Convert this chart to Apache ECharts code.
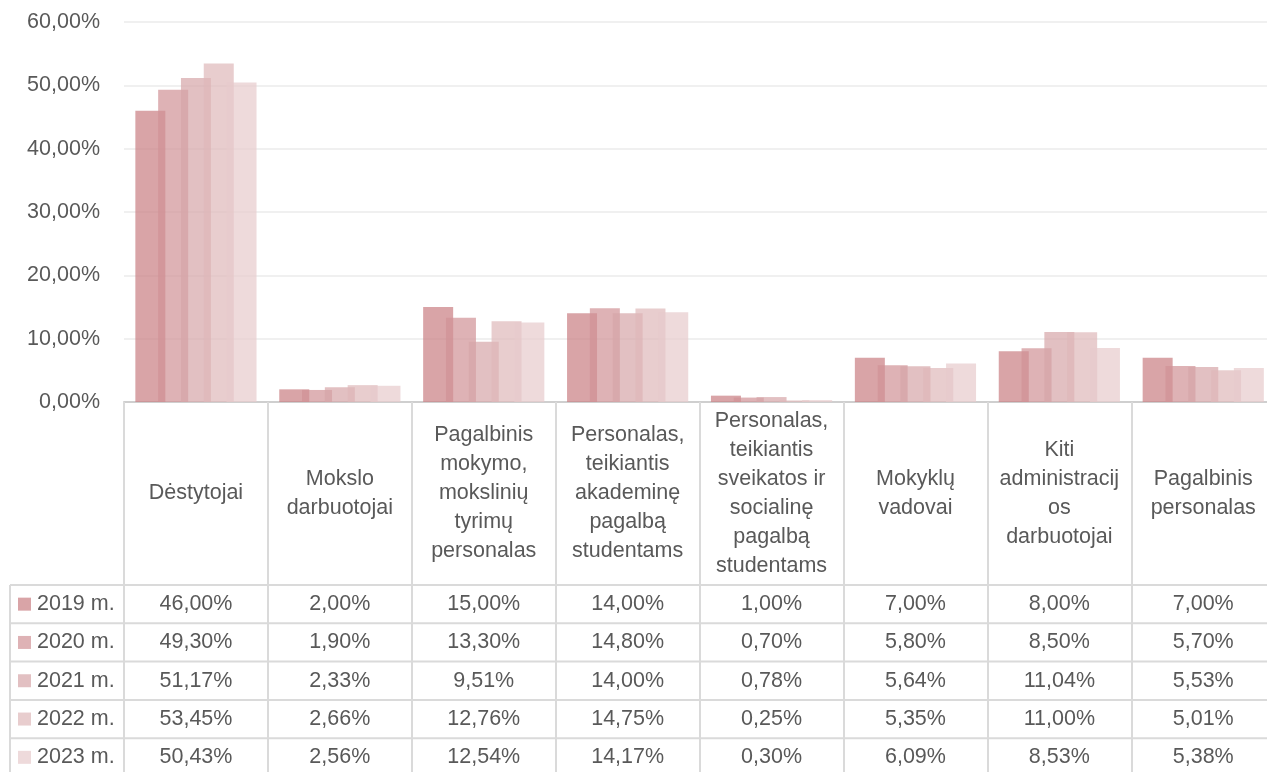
<!DOCTYPE html>
<html>
<head>
<meta charset="utf-8">
<script src="https://cdn.jsdelivr.net/npm/echarts@6/dist/echarts.min.js"></script>
<style>
  html, body { margin: 0; padding: 0; background: #fff; }
  #chart { width: 1267px; height: 772px; }
</style>
</head>
<body>
<div id="chart"></div>
<script>
// categories as shown in the data table header (line breaks as drawn)
const categories = [
  'Dėstytojai',
  'Mokslo\ndarbuotojai',
  'Pagalbinis\nmokymo,\nmokslinių\ntyrimų\npersonalas',
  'Personalas,\nteikiantis\nakademinę\npagalbą\nstudentams',
  'Personalas,\nteikiantis\nsveikatos ir\nsocialinę\npagalbą\nstudentams',
  'Mokyklų\nvadovai',
  'Kiti\nadministracij\nos\ndarbuotojai',
  'Pagalbinis\npersonalas'
]
const years = ['2019 m.', '2020 m.', '2021 m.', '2022 m.', '2023 m.']
const v2019 = [46.00, 2.00, 15.00, 14.00, 1.00, 7.00, 8.00, 7.00]
const v2020 = [49.30, 1.90, 13.30, 14.80, 0.70, 5.80, 8.50, 5.70]
const v2021 = [51.17, 2.33, 9.51, 14.00, 0.78, 5.64, 11.04, 5.53]
const v2022 = [53.45, 2.66, 12.76, 14.75, 0.25, 5.35, 11.00, 5.01]
const v2023 = [50.43, 2.56, 12.54, 14.17, 0.30, 6.09, 8.53, 5.38]
const yTicks = [0, 10, 20, 30, 40, 50, 60]

const seriesValues = [v2019, v2020, v2021, v2022, v2023]
const colors = [
  'rgba(201,126,129,0.7)',
  'rgba(208,146,149,0.7)',
  'rgba(214,165,168,0.7)',
  'rgba(222,184,185,0.7)',
  'rgba(231,202,204,0.7)'
]

const FONT = 'Liberation Sans'
const FS = 21.5
const TXT = '#595959'
const LINE = '#dadada'
const fmt = v => v.toFixed(2).replace('.', ',') + '%'

// table layout
const gridLeft = 124
const gridTop = 22
const gridBottomY = 402
const colW = 143.9
const headerBottom = 585
const rowH = 38.3
const legendLeft = 10

let chart = echarts.init(document.getElementById('chart'))

chart.setOption({
  animation: false,
  color: colors,
  grid: {
    left: gridLeft,
    top: gridTop,
    width: colW * categories.length,
    height: gridBottomY - gridTop,
    containLabel: false,
    outerBoundsMode: 'none'
  },
  xAxis: {
    type: 'category',
    data: categories,
    boundaryGap: true,
    axisLine: { show: true, lineStyle: { color: '#cfcfcf', width: 2 } },
    axisTick: {
      show: true,
      length: 772 - gridBottomY,
      lineStyle: { color: LINE, width: 2 }
    },
    axisLabel: {
      interval: 0,
      margin: (headerBottom - gridBottomY) / 2,
      verticalAlign: 'middle',
      align: 'center',
      fontFamily: FONT,
      fontSize: FS,
      lineHeight: 29,
      color: TXT
    }
  },
  yAxis: {
    type: 'value',
    min: yTicks[0],
    max: yTicks[yTicks.length - 1],
    interval: 10,
    axisLine: { show: false },
    axisTick: { show: false },
    splitLine: { lineStyle: { color: '#f0f0f0', width: 2 } },
    axisLabel: {
      margin: 24,
      fontFamily: FONT,
      fontSize: FS,
      color: TXT,
      formatter: v => fmt(v)
    }
  },
  series: seriesValues.map((vals, i) => ({
    name: years[i],
    type: 'bar',
    data: vals,
    barWidth: 30,
    barGap: '-24%',
    itemStyle: { color: colors[i] }
  }))
})

// data table below the axis
let graphic = []
for (let r = 0; r <= years.length; r++) {
  let y = headerBottom + r * rowH
  graphic.push({
    type: 'line',
    shape: { x1: legendLeft, y1: y, x2: gridLeft + colW * categories.length, y2: y },
    style: { stroke: LINE, lineWidth: 2 },
    silent: true
  })
}
graphic.push({
  type: 'line',
  shape: { x1: legendLeft, y1: headerBottom, x2: legendLeft, y2: 772 },
  style: { stroke: LINE, lineWidth: 2 },
  silent: true
})
years.forEach((yr, r) => {
  let cy = headerBottom + r * rowH + rowH / 2
  graphic.push({
    type: 'rect',
    shape: { x: 18, y: cy - 6.5, width: 13, height: 13 },
    style: { fill: colors[r] },
    silent: true
  })
  graphic.push({
    type: 'text',
    x: 37,
    y: cy,
    style: { text: yr, fontFamily: FONT, fontSize: FS, fill: TXT, verticalAlign: 'middle', align: 'left' },
    silent: true
  })
  seriesValues[r].forEach((v, c) => {
    let cx = chart.convertToPixel({ xAxisIndex: 0 }, c)
    graphic.push({
      type: 'text',
      x: cx,
      y: cy,
      style: { text: fmt(v), fontFamily: FONT, fontSize: FS, fill: TXT, verticalAlign: 'middle', align: 'center' },
      silent: true
    })
  })
})
chart.setOption({ graphic: graphic })
</script>
</body>
</html>
